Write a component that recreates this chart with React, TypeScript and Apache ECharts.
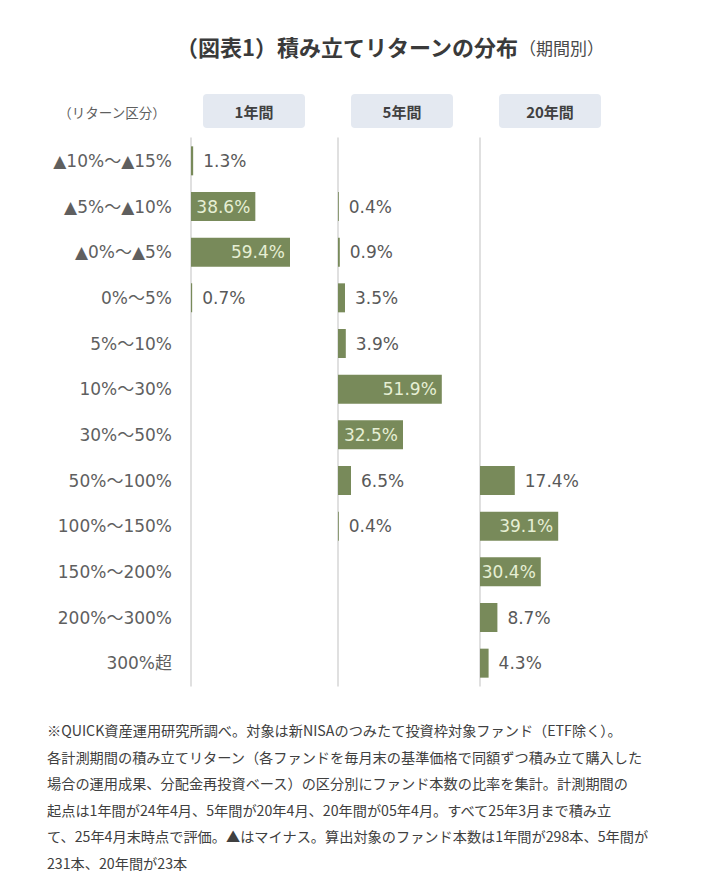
import React, { useEffect, useRef } from "react";
import * as echarts from "echarts";

const categories = [
  "▲10%～▲15%",
  "▲5%～▲10%",
  "▲0%～▲5%",
  "0%～5%",
  "5%～10%",
  "10%～30%",
  "30%～50%",
  "50%～100%",
  "100%～150%",
  "150%～200%",
  "200%～300%",
  "300%超",
];

const periods = ["1年間", "5年間", "20年間"];

const oneYear = [1.3, 38.6, 59.4, 0.7, null, null, null, null, null, null, null, null];
const fiveYear = [null, 0.4, 0.9, 3.5, 3.9, 51.9, 32.5, 6.5, 0.4, null, null, null];
const twentyYear = [null, null, null, null, null, null, null, 17.4, 39.1, 30.4, 8.7, 4.3];

const seriesValues = [oneYear, fiveYear, twentyYear];

const titleMain = "（図表1）積み立てリターンの分布";
const titleSub = "（期間別）";
const headerLabel = "（リターン区分）";

const footnoteLines = [
  "※QUICK資産運用研究所調べ。対象は新NISAのつみたて投資枠対象ファンド（ETF除く）。",
  "各計測期間の積み立てリターン（各ファンドを毎月末の基準価格で同額ずつ積み立て購入した",
  "場合の運用成果、分配金再投資ベース）の区分別にファンド本数の比率を集計。計測期間の",
  "起点は1年間が24年4月、5年間が20年4月、20年間が05年4月。すべて25年3月まで積み立",
  "て、25年4月末時点で評価。▲はマイナス。算出対象のファンド本数は1年間が298本、5年間が",
  "231本、20年間が23本",
];

// layout / style (not data)
const gridLefts = [191, 338, 480];
const axisMaxes = [78, 65, 65];
const boxCenters = [254, 402, 550];
const GRID_TOP = 138;
const GRID_HEIGHT = 548;
const GRID_WIDTH = 130;
const BAR_COLOR = "#788a5a";
const INSIDE_LABEL = "#e6efd4";
const OUTSIDE_LABEL = "#595959";
const LATIN_FONT = "'DejaVu Sans', 'Noto Sans CJK JP', sans-serif";
const CJK_FONT = "'Noto Sans CJK JP', sans-serif";

export default function App() {
  const ref = useRef<HTMLDivElement>(null);

  useEffect(() => {
    if (!ref.current) return;
    const chart = echarts.init(ref.current, undefined, { renderer: "svg" });

    const grids = gridLefts.map((left) => ({
      left,
      top: GRID_TOP,
      width: GRID_WIDTH,
      height: GRID_HEIGHT,
      containLabel: false,
    }));

    const xAxes = axisMaxes.map((max, i) => ({
      type: "value",
      gridIndex: i,
      min: 0,
      max,
      show: false,
    }));

    const yAxes = periods.map((_, i) => ({
      type: "category",
      gridIndex: i,
      data: categories,
      inverse: true,
      axisLine: { show: true, lineStyle: { color: "#d6d6d6", width: 1.5 } },
      axisTick: { show: false },
      splitLine: { show: false },
      axisLabel: {
        show: i === 0,
        margin: 19,
        fontSize: 17,
        color: "#5f5f5f",
        fontFamily: LATIN_FONT,
      },
    }));

    const series = seriesValues.map((vals, i) => ({
      type: "bar",
      name: periods[i],
      xAxisIndex: i,
      yAxisIndex: i,
      barWidth: 29,
      itemStyle: { color: BAR_COLOR },
      data: vals.map((v) =>
        v === null
          ? null
          : {
              value: v,
              label: {
                show: true,
                position: v >= 25 ? "insideRight" : "right",
                distance: v >= 25 ? 5 : 10,
                color: v >= 25 ? INSIDE_LABEL : OUTSIDE_LABEL,
                fontSize: 17,
                fontFamily: LATIN_FONT,
                formatter: (p: any) => `${Number(p.value).toFixed(1)}%`,
              },
            }
      ),
    }));

    const graphics: any[] = [
      {
        type: "text",
        left: 176,
        top: 35,
        style: {
          text: titleMain,
          fontSize: 22,
          fontWeight: "bold",
          fill: "#3a3a3a",
          fontFamily: CJK_FONT,
        },
      },
      {
        type: "text",
        left: 519,
        top: 39,
        style: {
          text: titleSub,
          fontSize: 17,
          fill: "#4a4a4a",
          fontFamily: CJK_FONT,
        },
      },
      {
        type: "text",
        x: 112,
        y: 112,
        style: {
          text: headerLabel,
          fontSize: 13.5,
          fill: "#5f5f5f",
          fontFamily: CJK_FONT,
          align: "center",
          verticalAlign: "middle",
        },
      },
    ];

    periods.forEach((p, i) => {
      graphics.push({
        type: "rect",
        shape: { x: boxCenters[i] - 51, y: 94, width: 102, height: 34, r: 4 },
        style: { fill: "#e4e9f1" },
      });
      graphics.push({
        type: "text",
        x: boxCenters[i],
        y: 111,
        style: {
          text: p,
          fontSize: 15,
          fontWeight: "bold",
          fill: "#404040",
          fontFamily: CJK_FONT,
          align: "center",
          verticalAlign: "middle",
        },
      });
    });

    footnoteLines.forEach((line, i) => {
      graphics.push({
        type: "text",
        x: 47,
        y: 730 + i * 26.6,
        style: {
          text: line,
          fontSize: 14.2,
          fill: "#404040",
          fontFamily: CJK_FONT,
          align: "left",
          verticalAlign: "middle",
        },
      });
    });

    chart.setOption({
      animation: false,
      backgroundColor: "#ffffff",
      grid: grids,
      xAxis: xAxes,
      yAxis: yAxes,
      series,
      graphic: graphics,
    });

    return () => chart.dispose();
  }, []);

  return (
    <div
      ref={ref}
      style={{ position: "fixed", left: 0, top: 0, width: 701, height: 888 }}
    />
  );
}
